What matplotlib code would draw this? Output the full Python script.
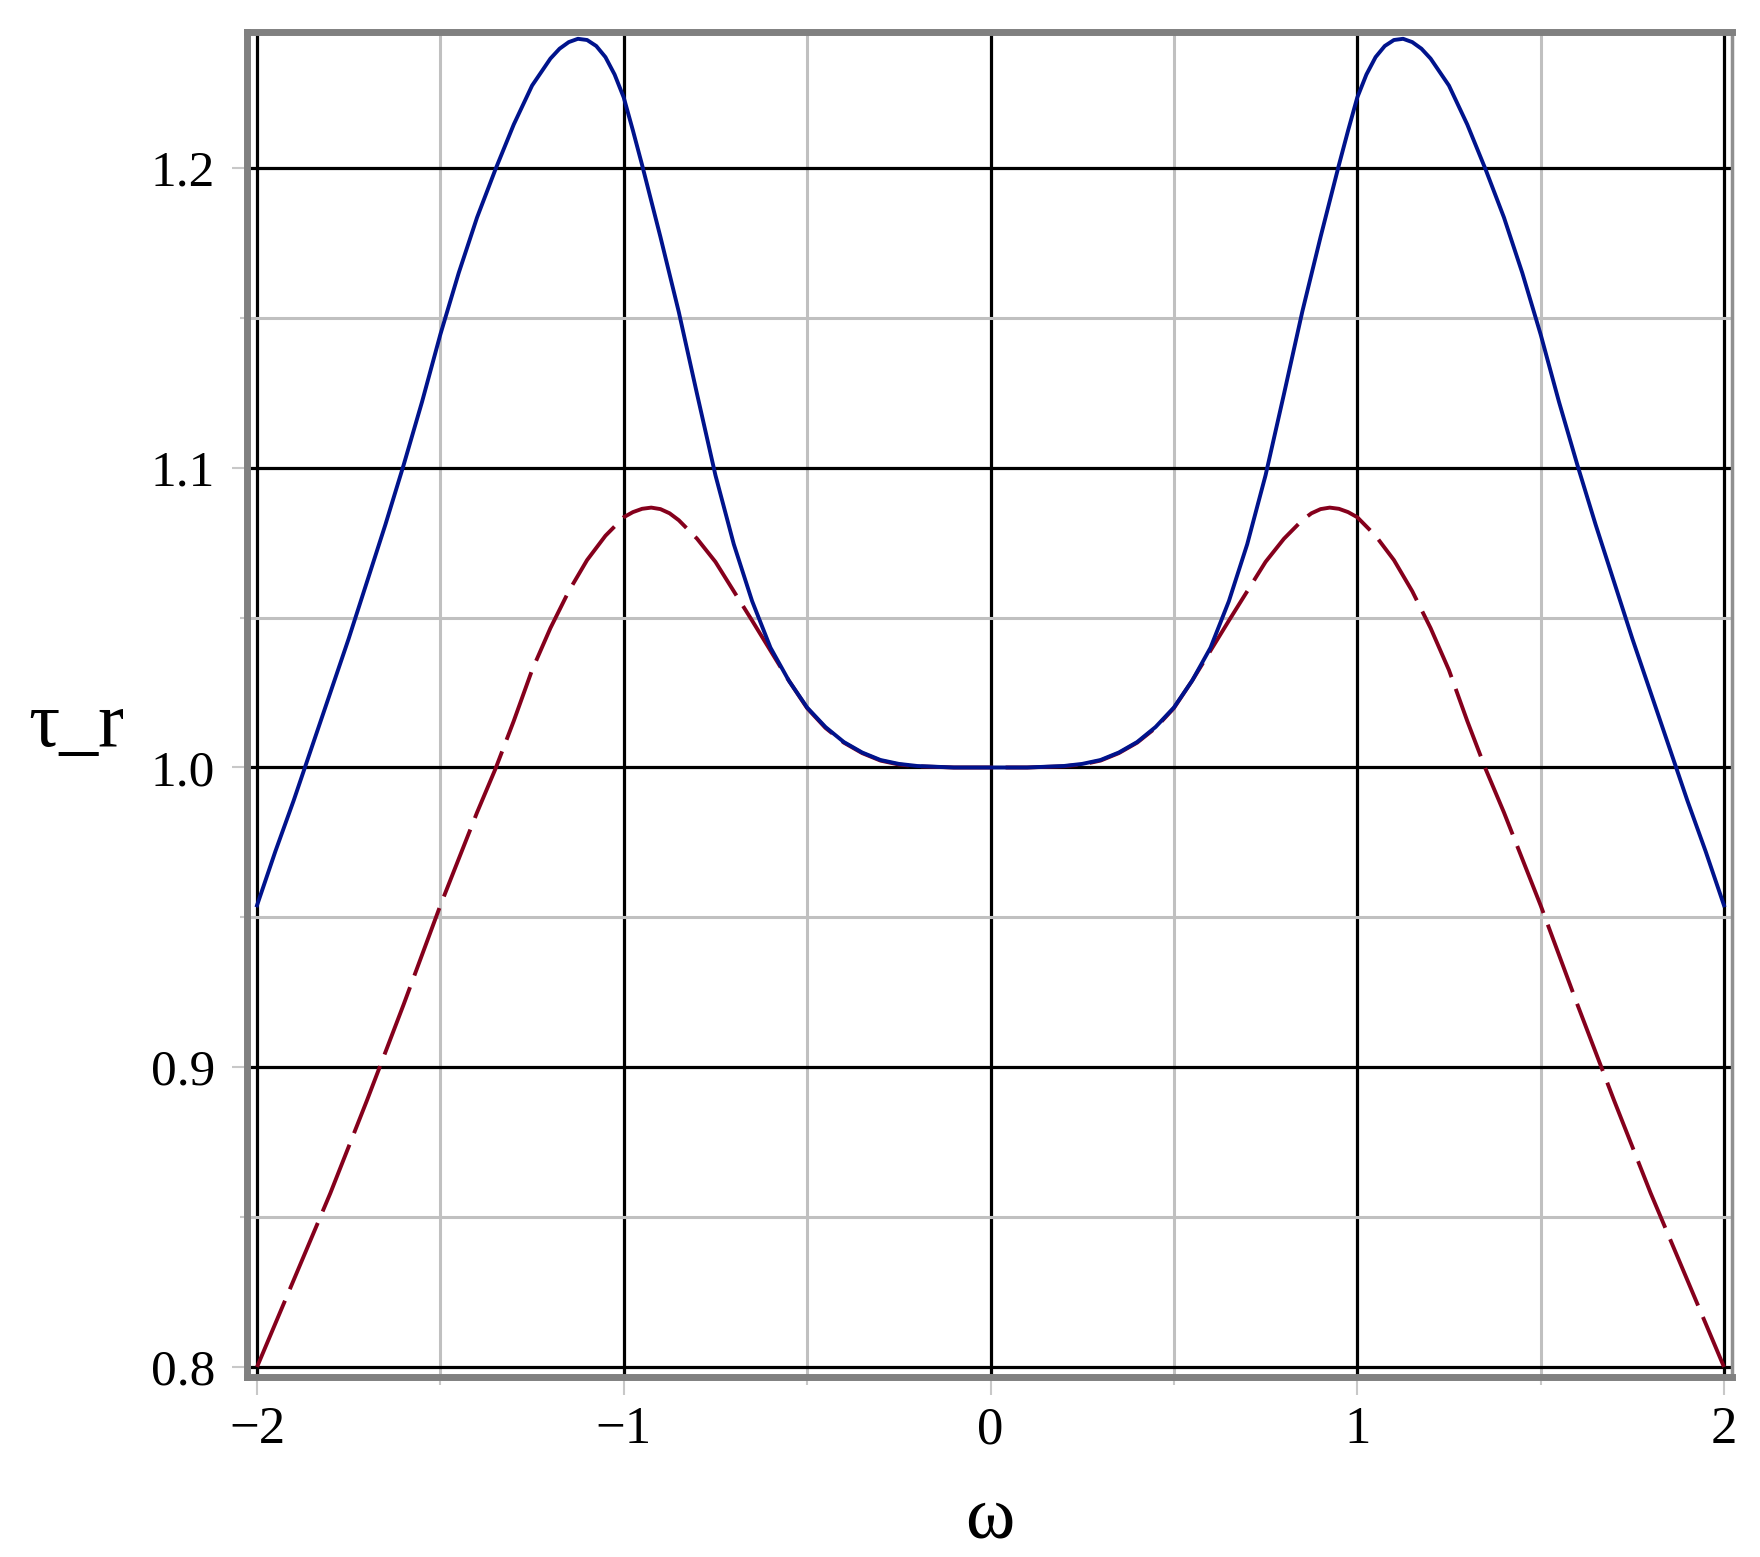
import numpy as np
import matplotlib
matplotlib.use("Agg")
import matplotlib.pyplot as plt

plt.rcParams['font.family'] = ['Liberation Serif', 'DejaVu Serif']

# solid blue curve
omega_blue = [-2.0, -1.95, -1.9, -1.85, -1.8, -1.75, -1.7, -1.65, -1.6, -1.55, -1.5, -1.45, -1.4,
              -1.35, -1.3, -1.25, -1.2, -1.175, -1.15, -1.125, -1.1, -1.075, -1.05, -1.025, -1.0,
              -0.975, -0.95, -0.925, -0.9, -0.875, -0.85, -0.8, -0.75, -0.7, -0.65, -0.6, -0.55,
              -0.5, -0.45, -0.4, -0.35, -0.3, -0.25, -0.2, -0.1, 0.0,
              0.1, 0.2, 0.25, 0.3, 0.35, 0.4, 0.45, 0.5, 0.55, 0.6, 0.65, 0.7, 0.75, 0.8, 0.85,
              0.875, 0.9, 0.925, 0.95, 0.975, 1.0, 1.025, 1.05, 1.075, 1.1, 1.125, 1.15, 1.175,
              1.2, 1.25, 1.3, 1.35, 1.4, 1.45, 1.5, 1.55, 1.6, 1.65, 1.7, 1.75, 1.8, 1.85, 1.9,
              1.95, 2.0]
tau_blue = [0.954, 0.972, 0.989, 1.007, 1.025, 1.043, 1.062, 1.081, 1.101, 1.122, 1.1445, 1.165, 1.1835,
            1.1995, 1.2145, 1.2275, 1.2365, 1.2398, 1.2420, 1.2431, 1.2427, 1.2407, 1.2370, 1.2312, 1.2235,
            1.2125, 1.201, 1.189, 1.177, 1.1645, 1.152, 1.1245, 1.0975, 1.0745, 1.0555, 1.040, 1.029,
            1.020, 1.0135, 1.0085, 1.005, 1.0025, 1.0012, 1.0005, 1.0, 1.0,
            1.0, 1.0005, 1.0012, 1.0025, 1.005, 1.0085, 1.0135, 1.020, 1.029, 1.040, 1.0555, 1.0745, 1.0975, 1.1245, 1.152,
            1.1645, 1.177, 1.189, 1.201, 1.2125, 1.2235, 1.2312, 1.2370, 1.2407, 1.2427, 1.2431, 1.2420, 1.2398,
            1.2365, 1.2275, 1.2145, 1.1995, 1.1835, 1.165, 1.1445, 1.122, 1.101, 1.081, 1.062, 1.043, 1.025, 1.007, 0.989,
            0.972, 0.954]

# dashed red curve
omega_red = [-2.0, -1.9, -1.8, -1.7, -1.6, -1.5, -1.4, -1.35, -1.3, -1.25, -1.2, -1.15, -1.1, -1.05,
             -1.0, -0.975, -0.95, -0.925, -0.9, -0.875, -0.85, -0.8, -0.75, -0.7, -0.65, -0.6, -0.55,
             -0.5, -0.45, -0.4, -0.35, -0.3, -0.25, -0.2, -0.1, 0.0,
             0.1, 0.2, 0.25, 0.3, 0.35, 0.4, 0.45, 0.5, 0.55, 0.6, 0.65, 0.7, 0.75, 0.8, 0.85, 0.875,
             0.9, 0.925, 0.95, 0.975, 1.0, 1.05, 1.1, 1.15, 1.2, 1.25, 1.3, 1.35, 1.4, 1.5, 1.6, 1.7,
             1.8, 1.9, 2.0]
tau_red = [0.800, 0.829, 0.858, 0.889, 0.921, 0.954, 0.985, 0.9995, 1.0155, 1.0325, 1.0465, 1.0588, 1.0692, 1.0773,
           1.0835, 1.0852, 1.0863, 1.0867, 1.0862, 1.0848, 1.0825, 1.0763, 1.0686, 1.0588, 1.049, 1.039, 1.029,
           1.0198, 1.0132, 1.0083, 1.0048, 1.0023, 1.001, 1.0004, 1.0, 1.0,
           1.0, 1.0004, 1.001, 1.0023, 1.0048, 1.0083, 1.0132, 1.0198, 1.029, 1.039, 1.049, 1.0588, 1.0686, 1.0763, 1.0825, 1.0848,
           1.0862, 1.0867, 1.0863, 1.0852, 1.0835, 1.0773, 1.0692, 1.0588, 1.0465, 1.0325, 1.0155, 0.9995, 0.985, 0.954, 0.921, 0.889,
           0.858, 0.829, 0.800]

x_ticks = [-2, -1, 0, 1, 2]
x_labels = ['\u22122', '\u22121', '0', '1', '2']
y_ticks = [0.8, 0.9, 1.0, 1.1, 1.2]
y_labels = ['0.8', '0.9', '1.0', '1.1', '1.2']

fig = plt.figure(figsize=(17.6, 15.57), dpi=100)
ax = fig.add_axes([0.14034, 0.11561, 0.84375, 0.86403])

ax.plot(omega_red, tau_red, color='#85001c', lw=2.8, linestyle=(0, (18.5, 3.2)), zorder=3)
ax.plot(omega_blue, tau_blue, color='#00138c', lw=2.8, zorder=4)

ax.set_xlim(-2.0273, 2.0218)
ax.set_ylim(0.79666, 1.24547)

ax.set_xticks(x_ticks)
ax.set_xticklabels(x_labels)
ax.set_xticks(np.arange(-2, 2.01, 0.5), minor=True)
ax.set_yticks(y_ticks)
ax.set_yticklabels(y_labels)
ax.set_yticks(np.arange(0.8, 1.241, 0.05), minor=True)

ax.set_axisbelow(True)
ax.grid(which='major', color='black', lw=2.3)
ax.grid(which='minor', color='#c0c0c0', lw=2.2)

for side in ['left', 'bottom', 'top']:
    ax.spines[side].set_color('#808080')
    ax.spines[side].set_linewidth(5)
ax.spines['right'].set_color('#909090')
ax.spines['right'].set_linewidth(2.5)

ax.tick_params(which='both', color='#c8c8c8', width=1.5)
ax.tick_params(axis='y', which='major', length=11, pad=12, labelsize=37)
ax.tick_params(axis='y', which='minor', length=5)
ax.tick_params(axis='x', which='major', length=13, pad=8, labelsize=38)
ax.tick_params(axis='x', which='minor', length=6)

ax.set_xlabel('ω', fontsize=54, va='baseline')
ax.xaxis.set_label_coords(0.5, -0.1195)
ax.set_ylabel('τ_r', fontsize=56, rotation=0, va='baseline', ha='center')
ax.yaxis.set_label_coords(-0.1153, 0.4693)

fig.savefig('out.png', dpi=100)
